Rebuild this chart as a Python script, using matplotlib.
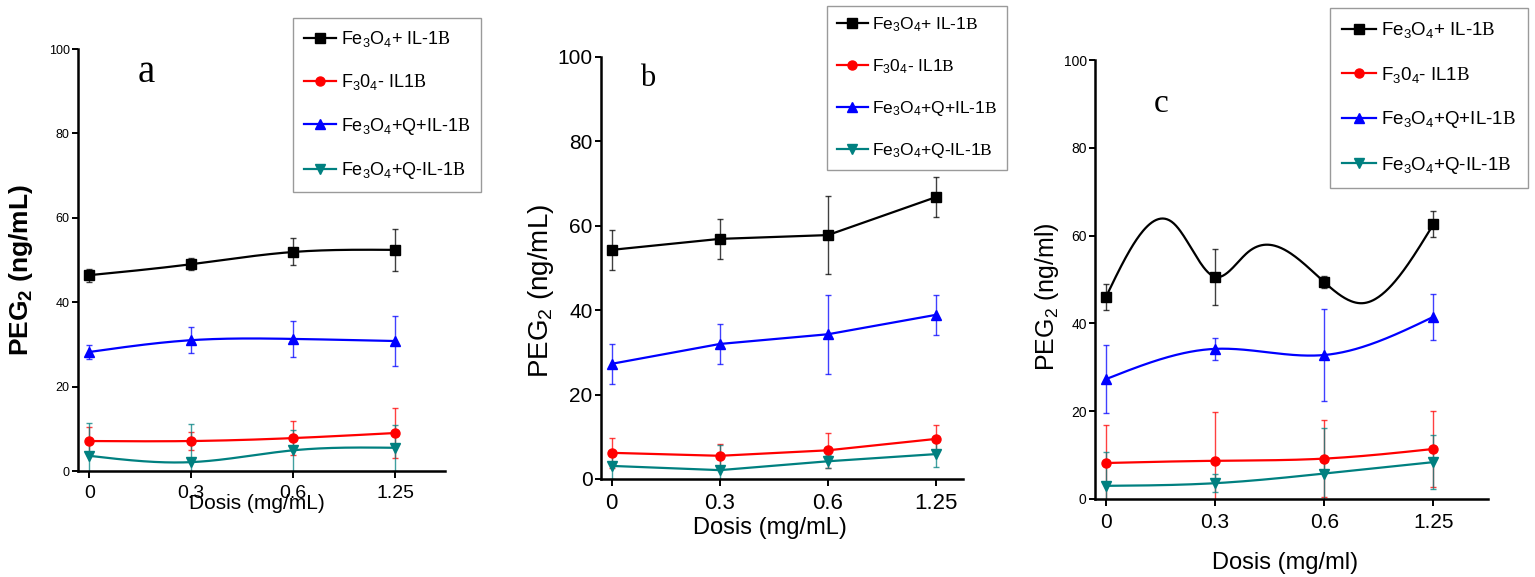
import matplotlib
matplotlib.use("Agg")
import matplotlib.pyplot as plt
from matplotlib.lines import Line2D
import numpy as np

plt.rcParams['font.family'] = ['Liberation Sans', 'DejaVu Sans']
plt.rcParams['mathtext.default'] = 'regular'
plt.rcParams['mathtext.fontset'] = 'custom'
plt.rcParams['mathtext.rm'] = 'Liberation Serif'

doses = ['0', '0.3', '0.6', '1.25']
series_labels = ['Fe$_3$O$_4$+ IL-1$\\mathrm{B}$', 'F$_3$0$_4$- IL1$\\mathrm{B}$',
                 'Fe$_3$O$_4$+Q+IL-1$\\mathrm{B}$', 'Fe$_3$O$_4$+Q-IL-1$\\mathrm{B}$']
colors = ['black', '#ff0000', '#0000ff', '#008080']
markers = ['s', 'o', '^', 'v']

# panel a
a_black = [46.4, 49.0, 51.9, 52.4]
a_black_err = [1.5, 1.4, 3.2, 5.0]
a_red = [7.1, 7.1, 7.8, 9.0]
a_red_err = [3.3, 2.2, 4.0, 6.0]
a_blue = [28.2, 31.0, 31.3, 30.8]
a_blue_err = [1.7, 3.1, 4.3, 6.0]
a_teal = [3.6, 2.1, 4.9, 5.5]
a_teal_err = [7.8, 9.0, 4.8, 5.4]

# panel b
b_black = [54.3, 56.9, 57.8, 66.8]
b_black_err = [4.7, 4.7, 9.3, 4.8]
b_red = [6.2, 5.5, 6.8, 9.5]
b_red_err = [3.5, 2.8, 4.1, 3.3]
b_blue = [27.3, 32.0, 34.3, 38.9]
b_blue_err = [4.7, 4.7, 9.3, 4.7]
b_teal = [3.1, 2.1, 4.2, 5.9]
b_teal_err = [3.1, 6.0, 1.6, 3.0]

# panel c
c_black = [46.0, 50.6, 49.4, 62.6]
c_black_err = [3.0, 6.3, 1.3, 3.0]
c_red = [8.2, 8.7, 9.2, 11.4]
c_red_err = [8.7, 11.2, 8.7, 8.7]
c_blue = [27.3, 34.2, 32.8, 41.5]
c_blue_err = [7.8, 2.5, 10.4, 5.2]
c_teal = [3.0, 3.6, 5.8, 8.4]
c_teal_err = [7.7, 2.0, 10.3, 6.1]
# the black curve in c swings between the means; these are the knots it runs through
c_black_path_x = [0, 0.62, 1, 1.3, 2, 2.35, 3]
c_black_path_y = [46.0, 62.8, 50.6, 56.2, 49.4, 44.6, 62.6]


def smooth(x, y, n=300):
    # natural cubic spline through (x, y)
    x = np.asarray(x, float)
    y = np.asarray(y, float)
    k = len(x)
    h = np.diff(x)
    A = np.zeros((k, k))
    r = np.zeros(k)
    A[0, 0] = A[-1, -1] = 1
    for i in range(1, k - 1):
        A[i, i - 1] = h[i - 1]
        A[i, i] = 2 * (h[i - 1] + h[i])
        A[i, i + 1] = h[i]
        r[i] = 6 * ((y[i + 1] - y[i]) / h[i] - (y[i] - y[i - 1]) / h[i - 1])
    m = np.linalg.solve(A, r)
    xs = np.linspace(x[0], x[-1], n)
    i = np.clip(np.searchsorted(x, xs) - 1, 0, k - 2)
    t0 = xs - x[i]
    t1 = x[i + 1] - xs
    hi = h[i]
    ys = (m[i] * t1 ** 3 / (6 * hi) + m[i + 1] * t0 ** 3 / (6 * hi)
          + (y[i] / hi - m[i] * hi / 6) * t1 + (y[i + 1] / hi - m[i + 1] * hi / 6) * t0)
    return xs, ys


def draw(ax, data, errs, curved, paths=None):
    x = np.arange(len(doses))
    for j, (y, e) in enumerate(zip(data, errs)):
        c = colors[j]
        ax.errorbar(x, y, yerr=e, fmt='none', ecolor=c, elinewidth=1, capsize=2.5,
                    capthick=1, alpha=0.75, zorder=2)
        if paths is not None and paths[j] is not None:
            xs, ys = smooth(*paths[j])
        elif curved:
            xs, ys = smooth(x, y)
        else:
            xs, ys = x, y
        ax.plot(xs, ys, color=c, lw=1.6, zorder=3)
        ax.plot(x, y, ls='none', marker=markers[j], color=c, ms=6.5, zorder=4)


def style(ax, xlim, tick_fs, xtick_fs):
    ax.set_xlim(*xlim)
    ax.set_ylim(0, 100)
    ax.set_xticks(range(len(doses)), doses, fontsize=xtick_fs)
    ax.set_yticks(range(0, 101, 20))
    ax.tick_params(axis='y', labelsize=tick_fs, length=4, width=1.4, pad=2)
    ax.tick_params(axis='x', length=5, width=1.4, pad=5)
    for s in ('top', 'right'):
        ax.spines[s].set_visible(False)
    for s in ('left', 'bottom'):
        ax.spines[s].set_linewidth(1.8)


def legend(fig, anchor, fs, spacing, pad):
    handles = [Line2D([], [], color=c, marker=m, lw=1.6, ms=6.5) for c, m in zip(colors, markers)]
    leg = fig.legend(handles, series_labels, loc='upper left', bbox_to_anchor=anchor,
                     bbox_transform=fig.transFigure, borderaxespad=0, fontsize=fs,
                     fancybox=False, framealpha=1, edgecolor='#9a9a9a', handlelength=1.8,
                     handletextpad=0.25, labelspacing=spacing, borderpad=pad)
    leg.get_frame().set_linewidth(1.0)


W, H = 1535, 577
fig = plt.figure(figsize=(W / 100, H / 100), dpi=100)

ax_a = fig.add_axes([78 / W, 1 - 471 / H, 367 / W, 422 / H])
ax_b = fig.add_axes([601 / W, 1 - 479 / H, 362 / W, 422 / H])
ax_c = fig.add_axes([1095 / W, 1 - 499 / H, 393 / W, 439 / H])

draw(ax_a, [a_black, a_red, a_blue, a_teal],
     [a_black_err, a_red_err, a_blue_err, a_teal_err], curved=True)
draw(ax_b, [b_black, b_red, b_blue, b_teal],
     [b_black_err, b_red_err, b_blue_err, b_teal_err], curved=False)
draw(ax_c, [c_black, c_red, c_blue, c_teal],
     [c_black_err, c_red_err, c_blue_err, c_teal_err], curved=True,
     paths=[(c_black_path_x, c_black_path_y), None, None, None])

style(ax_a, (-0.11, 3.49), 9, 14)
style(ax_b, (-0.10, 3.25), 15, 16)
style(ax_c, (-0.10, 3.50), 10, 15)

ax_a.set_ylabel('PEG$_2$ (ng/mL)', fontsize=19, fontweight='bold')
ax_a.yaxis.set_label_coords(-0.155, 0.476)
ax_b.set_ylabel('PEG$_2$ (ng/mL)', fontsize=20)
ax_b.yaxis.set_label_coords(-0.166, 0.445)
ax_c.set_ylabel('PEG$_2$ (ng/ml)', fontsize=18)
ax_c.yaxis.set_label_coords(-0.122, 0.46)
for ax in (ax_a, ax_b, ax_c):
    ax.yaxis.label.set_verticalalignment('center')

ax_a.set_xlabel('Dosis (mg/mL)', fontsize=15)
ax_a.xaxis.set_label_coords(0.488, -0.076)
ax_b.set_xlabel('Dosis (mg/mL)', fontsize=17)
ax_b.xaxis.set_label_coords(0.467, -0.116)
ax_c.set_xlabel('Dosis (mg/ml)', fontsize=17)
ax_c.xaxis.set_label_coords(0.483, -0.146)
for ax in (ax_a, ax_b, ax_c):
    ax.xaxis.label.set_verticalalignment('center')

fig.text(146 / W, 1 - 73 / H, 'a', fontsize=28, family='Liberation Serif', ha='center', va='center')
fig.text(648 / W, 1 - 78 / H, 'b', fontsize=22, family='Liberation Serif', ha='center', va='center')
fig.text(1161 / W, 1 - 104 / H, 'c', fontsize=24, family='Liberation Serif', ha='center', va='center')

legend(fig, (293 / W, 1 - 18 / H), 13, 1.3, 0.6)
legend(fig, (827 / W, 1 - 6 / H), 12.5, 1.33, 0.55)
legend(fig, (1330 / W, 1 - 8 / H), 13.5, 1.31, 0.65)

fig.savefig('out.png', dpi=100)
